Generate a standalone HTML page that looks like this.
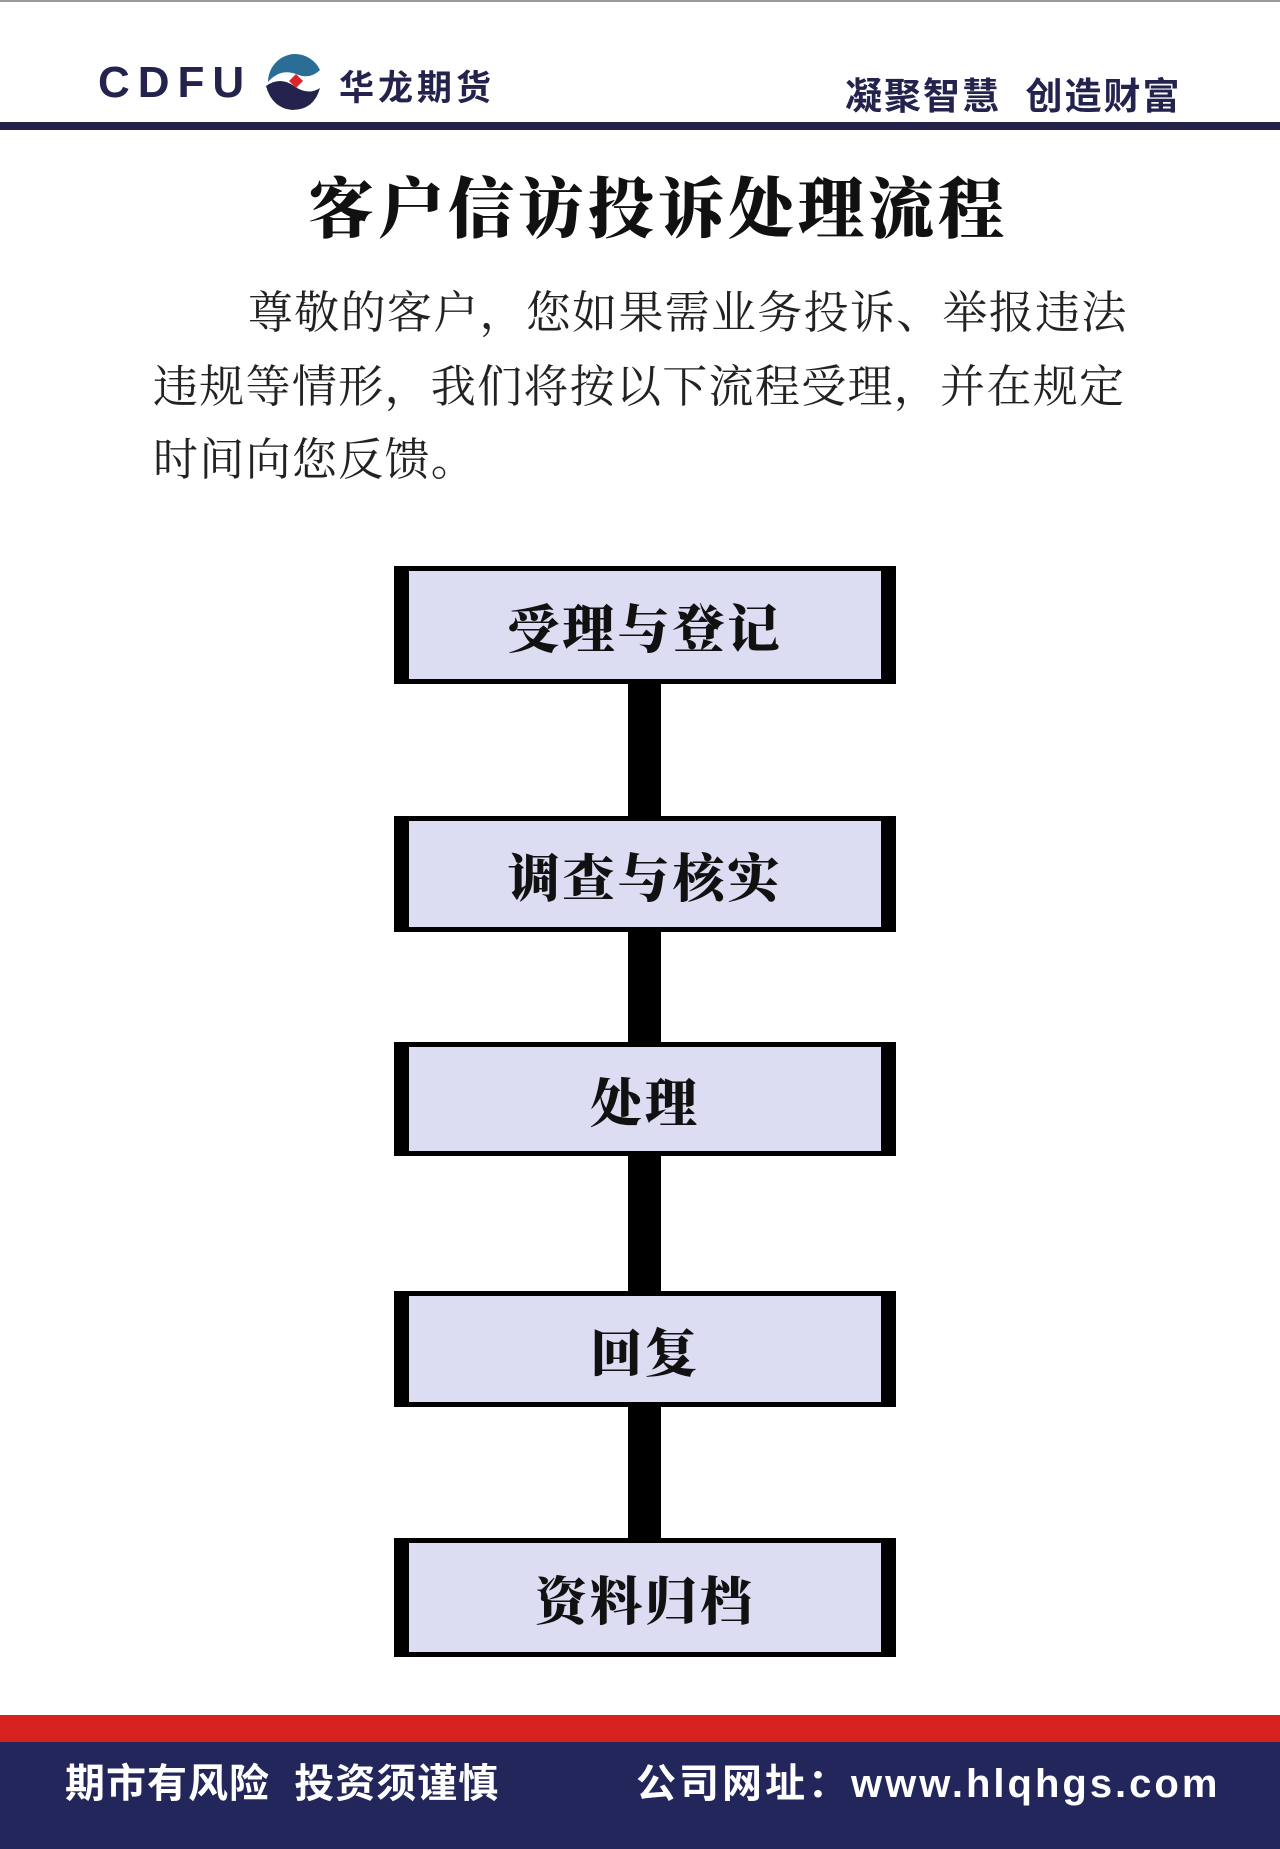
<!DOCTYPE html>
<html><head><meta charset="utf-8"><style>
body{margin:0;width:1280px;height:1849px;position:relative;background:#fff;overflow:hidden;font-family:"Liberation Serif","Noto Serif CJK SC",serif}
.a{position:absolute}
.box{position:absolute;left:394px;width:502px;box-sizing:border-box;border-style:solid;border-color:#000;border-width:5px 15px 5px 15px;background:#dcdcf2;display:flex;align-items:center;justify-content:center;font-weight:900;font-size:52px;letter-spacing:3px;color:#111}
.con{position:absolute;left:628px;width:33px;background:#000}
.p{position:absolute;font-size:45px;letter-spacing:1.3px;color:#222;white-space:nowrap;line-height:1}
.sans{font-family:"Liberation Sans","Noto Sans CJK SC",sans-serif}
</style></head><body>
<div class="a" style="left:0;top:0;width:1280px;height:2px;background:#999"></div>
<div class="a sans" style="left:98px;top:58px;font-size:44px;font-weight:bold;color:#23234e;letter-spacing:8px">CDFU</div>
<svg class="a" style="left:262px;top:52px" width="62" height="60" viewBox="0 0 62 60">
<path d="M32 2 A28 28 0 0 0 6 30 Q18 16 34 22 Q48 28 58 18 A28 28 0 0 0 32 2Z" fill="#2a6e95"/>
<path d="M4 34 Q18 24 32 34 Q46 44 58 36 Q52 58 30 58 Q10 56 4 34Z" fill="#23234e"/>
<path d="M34 22 l7 7 -7 7 -7 -7z" fill="#d9262b"/>
</svg>
<div class="a sans" style="left:339px;top:60px;font-size:35px;font-weight:bold;color:#23234e;letter-spacing:4px">华龙期货</div>
<div class="a sans" style="left:845px;top:66px;font-size:37px;font-weight:bold;color:#23234e;letter-spacing:2px">凝聚智慧&nbsp;&nbsp;创造财富</div>
<div class="a" style="left:0;top:122px;width:1280px;height:8px;background:#22224a"></div>
<div class="a" style="left:0;top:178px;width:1316px;text-align:center;font-size:66px;font-weight:900;color:#111;letter-spacing:4px;line-height:1">客户信访投诉处理流程</div>
<div class="p" style="left:248px;top:291px">尊敬的客户，您如果需业务投诉、举报违法</div>
<div class="p" style="left:153px;top:365px">违规等情形，我们将按以下流程受理，并在规定</div>
<div class="p" style="left:153px;top:438px">时间向您反馈。</div>
<div class="box" style="top:566px;height:118px">受理与登记</div>
<div class="con" style="top:684px;height:132px"></div>
<div class="box" style="top:816px;height:116px">调查与核实</div>
<div class="con" style="top:932px;height:110px"></div>
<div class="box" style="top:1042px;height:114px">处理</div>
<div class="con" style="top:1156px;height:135px"></div>
<div class="box" style="top:1291px;height:116px">回复</div>
<div class="con" style="top:1407px;height:131px"></div>
<div class="box" style="top:1538px;height:119px">资料归档</div>
<div class="a" style="left:0;top:1715px;width:1280px;height:27px;background:#d8221f"></div>
<div class="a" style="left:0;top:1742px;width:1280px;height:107px;background:#22265a"></div>
<div class="a sans" style="left:65px;top:1751px;font-size:40px;font-weight:bold;color:#fff;letter-spacing:1px">期市有风险&nbsp;&nbsp;投资须谨慎</div>
<div class="a sans" style="left:636px;top:1751px;font-size:40px;font-weight:bold;color:#fff;letter-spacing:3px">公司网址：www.hlqhgs.com</div>
</body></html>
